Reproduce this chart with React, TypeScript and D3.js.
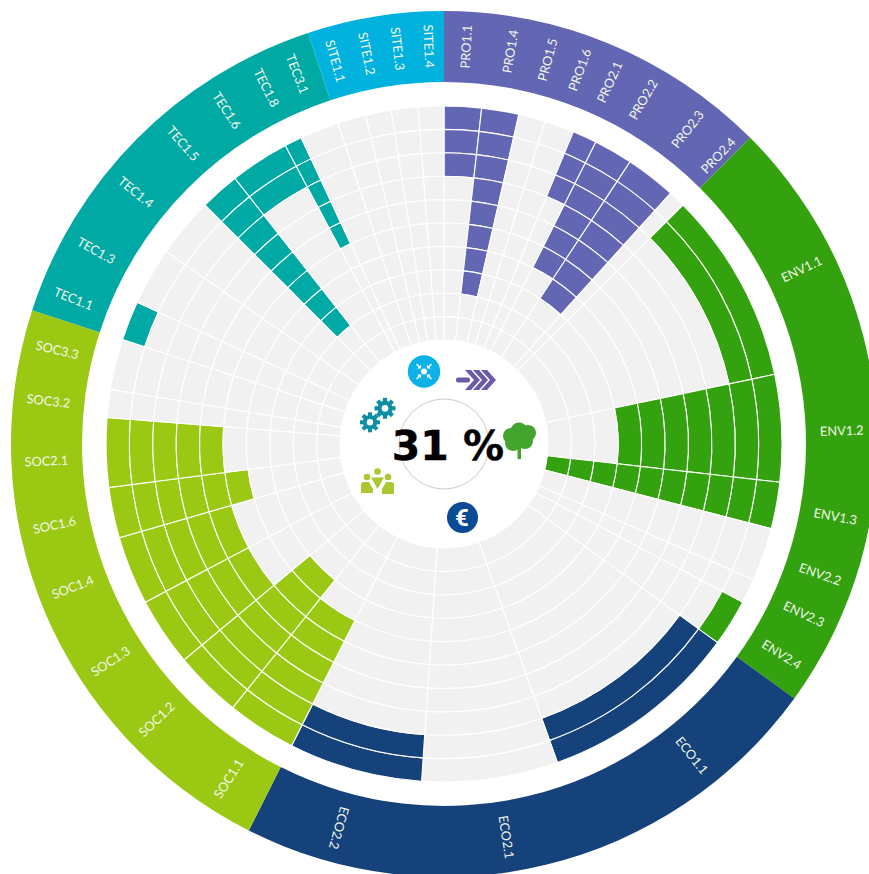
import React from 'react';
import * as d3 from 'd3';

const width = 869;
const height = 874;
const cx = 444;
const cy = 444;

const criteria = [
  'PRO1.1', 'PRO1.4', 'PRO1.5', 'PRO1.6', 'PRO2.1', 'PRO2.2', 'PRO2.3', 'PRO2.4',
  'ENV1.1', 'ENV1.2', 'ENV1.3', 'ENV2.2', 'ENV2.3', 'ENV2.4',
  'ECO1.1', 'ECO2.1', 'ECO2.2',
  'SOC1.1', 'SOC1.2', 'SOC1.3', 'SOC1.4', 'SOC1.6', 'SOC2.1', 'SOC3.2', 'SOC3.3',
  'TEC1.1', 'TEC1.3', 'TEC1.4', 'TEC1.5', 'TEC1.6', 'TEC1.8', 'TEC3.1',
  'SITE1.1', 'SITE1.2', 'SITE1.3', 'SITE1.4',
];

// share of the circle for each criterion, in degrees
const weights = [
  6.4, 6.4, 4.6, 5.1, 4.2, 6.7, 8.7, 2.9,
  33.1, 18.4, 8, 9.2, 4.2, 8.1,
  34.4, 23.4, 23,
  11.9, 11.6, 11.8, 11.8, 8.7, 11.9, 4.8, 8.7,
  6.8, 9.9, 10.3, 6.8, 10.2, 3, 6.7,
  4.9, 4.4, 4.6, 4.4,
];

// score out of 10, cells fill from the outer edge inwards
const scores = [
  3, 8, 0, 0, 3, 6, 7, 0,
  2, 7, 10, 0, 0, 1,
  2, 0, 2,
  6, 7, 5, 5, 6, 5, 0, 0,
  1, 0, 0, 8, 2, 5, 0,
  0, 0, 0, 0,
];

const groups = ['PRO', 'ENV', 'ECO', 'SOC', 'TEC', 'SITE'];
const groupColors = ['#6367b3', '#34a10e', '#15427a', '#9bc813', '#00a9a4', '#00b2dd'];
const levels = d3.range(10);
const overall = '31 %';

const color = d3.scaleOrdinal<string, string>().domain(groups).range(groupColors);
const groupOf = (c: string) => c.replace(/[\d.]+$/, '');

const rad = (deg: number) => (deg * Math.PI) / 180;
const ends = Array.from(d3.cumsum(weights));
const sectors = criteria.map((name, i) => ({
  name,
  group: groupOf(name),
  start: i === 0 ? 0 : ends[i - 1],
  end: ends[i],
  score: scores[i],
}));

const groupSpans = groups.map(g => {
  const inGroup = sectors.filter(s => s.group === g);
  return { group: g, start: d3.min(inGroup, s => s.start) as number, end: d3.max(inGroup, s => s.end) as number };
});

const radius = d3.scaleLinear().domain([0, 10]).range([338, 104]);
const arc = d3.arc();

const ringLabelRadius = 398;
// some labels do not sit exactly mid sector in the original
const labelNudge: Record<string, number> = {
  'ENV1.1': 2.4, 'ENV1.2': 0.8, 'ECO1.1': -1.7, 'ECO2.1': -1.1,
  'SOC1.2': 1.7, 'SOC1.3': 0.7, 'SOC1.4': 0.9, 'SOC2.1': -1, 'SOC3.2': -0.7,
  'TEC1.3': -0.7, 'TEC1.4': -0.6, 'TEC1.5': 0.6, 'ENV2.3': -0.5,
};

function Gear({ x, y, r }: { x: number; y: number; r: number }) {
  return (
    <g transform={`translate(${x},${y})`} fill="#0d8fa3">
      <circle r={r * 0.72} />
      {d3.range(8).map(i => (
        <rect key={i} x={-r * 0.2} y={-r} width={r * 0.4} height={r * 0.5} transform={`rotate(${i * 45})`} />
      ))}
      <circle r={r * 0.32} fill="#fff" />
    </g>
  );
}

function Icons() {
  return (
    <g>
      {/* site */}
      <circle cx={424} cy={371.5} r={16.2} fill="#0cb1e8" />
      <circle cx={424} cy={371.5} r={3} fill="#fff" />
      {[45, 135, 225, 315].map(a => (
        <g key={a} transform={`translate(424,371.5) rotate(${a})`} fill="#fff">
          <rect x={-0.7} y={-10.5} width={1.4} height={4} />
          <path d="M-2.6,-7 H2.6 L0,-4.2 Z" />
        </g>
      ))}
      {/* process */}
      <g fill="#6a5aa8">
        <rect x={456} y={377.5} width={14} height={5} rx={2} />
        <path d="M465,370 h6 l9,10 l-9,10 h-6 l9,-10 Z" />
        <path d="M473,370 h6 l9,10 l-9,10 h-6 l9,-10 Z" />
        <path d="M481,370 h6 l9,10 l-9,10 h-6 l9,-10 Z" />
      </g>
      {/* tree */}
      <g fill="#43a52e">
        <rect x={517.5} y={444} width={3.5} height={15} />
        <circle cx={511} cy={436} r={8} />
        <circle cx={519} cy={431} r={8.5} />
        <circle cx={528} cy={433} r={8} />
        <circle cx={525} cy={441} r={8} />
        <circle cx={513} cy={443} r={8} />
      </g>
      {/* euro */}
      <circle cx={462.5} cy={517.5} r={15.5} fill="#0b4a94" />
      <text x={462} y={526} textAnchor="middle" fontFamily="Roboto" fontWeight={700} fontSize={24} fill="#fff">€</text>
      {/* people */}
      <g fill="#a9c832">
        <circle cx={367} cy={477} r={3.3} />
        <circle cx={377.5} cy={471.5} r={3.3} />
        <circle cx={388} cy={477} r={3.3} />
        <path d="M361,493 V485 Q361,482 364,482 H369 L373,489 V493 Z" />
        <path d="M371,477.5 H384 L377.5,489 Z" />
        <path d="M394,494 V485 Q394,482 391,482 H386 L382,489 V494 Z" />
      </g>
      {/* gears */}
      <Gear x={385} y={408.3} r={10.5} />
      <Gear x={370} y={422.3} r={10} />
    </g>
  );
}

export default function App() {
  return (
    <svg
      width={width}
      height={height}
      viewBox={`0 0 ${width} ${height}`}
      style={{ position: 'absolute', left: 0, top: 0, background: '#fff' }}
    >
      <g transform={`translate(${cx},${cy})`}>
        {/* score cells */}
        {sectors.map(s =>
          levels.map(l => (
            <path
              key={`${s.name}-${l}`}
              d={arc({
                innerRadius: radius(l + 1),
                outerRadius: radius(l),
                startAngle: rad(s.start),
                endAngle: rad(s.end),
              }) as string}
              fill={l < s.score ? color(s.group) : '#f1f1f1'}
              stroke="#fff"
              strokeWidth={1.1}
            />
          )),
        )}

        {/* outer ring */}
        {groupSpans.map(g => (
          <path
            key={g.group}
            d={arc({
              innerRadius: 362,
              outerRadius: 433,
              startAngle: rad(g.start),
              endAngle: rad(g.end),
            }) as string}
            fill={color(g.group)}
          />
        ))}

        {sectors.map(s => {
          const mid = (s.start + s.end) / 2 + (labelNudge[s.name] || 0);
          const x = ringLabelRadius * Math.sin(rad(mid));
          const y = -ringLabelRadius * Math.cos(rad(mid));
          // right side reads outwards, left side reads inwards
          const rot = mid < 200 ? mid - 90 : mid + 90;
          return (
            <text
              key={s.name}
              transform={`translate(${x},${y}) rotate(${rot})`}
              textAnchor="middle"
              dy="0.35em"
              fontFamily="Lato"
              fontSize={12.8}
              fill="#f2f6ea"
            >
              {s.name}
            </text>
          );
        })}

        <circle r={45} fill="none" stroke="#cccccc" strokeWidth={1} />
      </g>

      <Icons />

      <text
        x={448}
        y={460}
        textAnchor="middle"
        fontFamily="DejaVu Sans"
        fontWeight={700}
        fontSize={41}
        fill="#000"
        stroke="#000"
        strokeWidth={0.4}
      >
        {overall}
      </text>
    </svg>
  );
}
